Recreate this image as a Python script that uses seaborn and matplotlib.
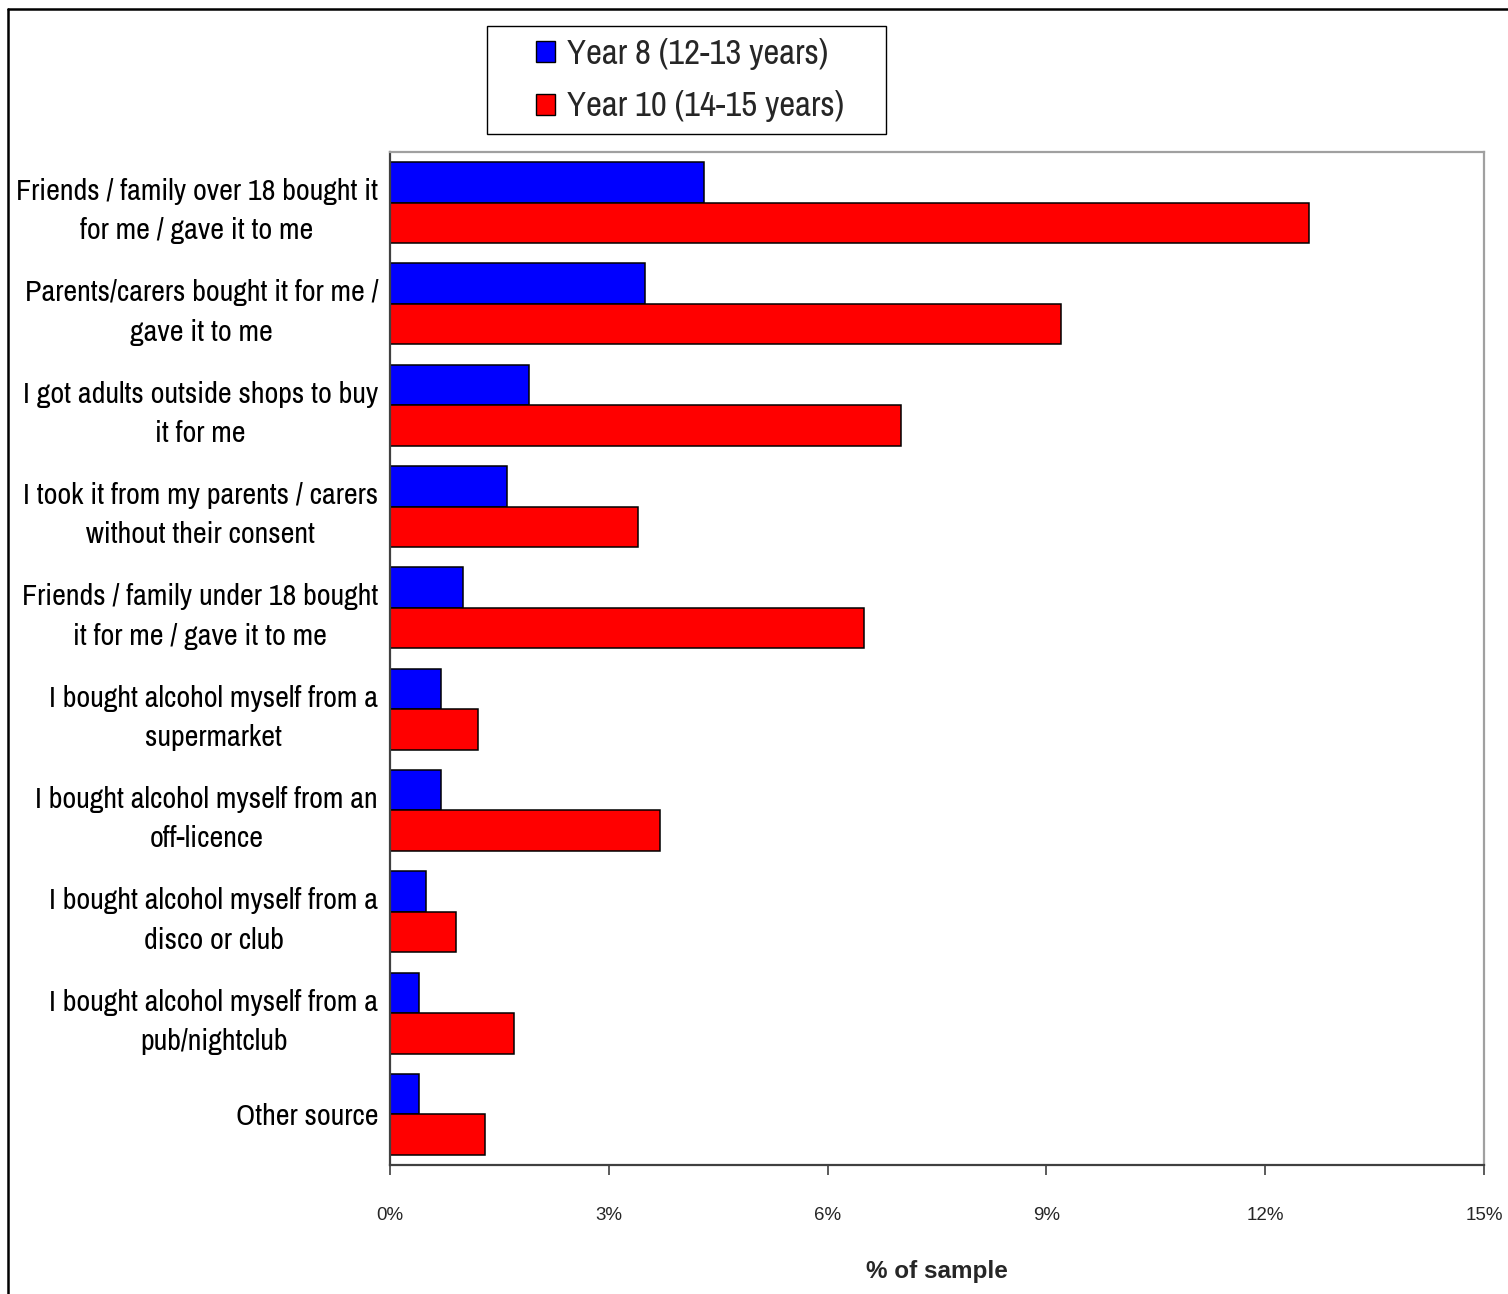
import matplotlib
matplotlib.use("Agg")
import matplotlib.pyplot as plt
from matplotlib.lines import Line2D
from matplotlib.patches import Rectangle
from matplotlib.ticker import FuncFormatter
import seaborn as sns
import pandas as pd

# Sources of alcohol, % of sample per school year
sources = [
    "Friends / family over 18 bought it\nfor me / gave it to me",
    "Parents/carers bought it for me /\ngave it to me",
    "I got adults outside shops to buy\nit for me",
    "I took it from my parents / carers\nwithout their consent",
    "Friends / family under 18 bought\nit for me / gave it to me",
    "I bought alcohol myself from a\nsupermarket",
    "I bought alcohol myself from an\noff-licence",
    "I bought alcohol myself from a\ndisco or club",
    "I bought alcohol myself from a\npub/nightclub",
    "Other source",
]
year8 = [4.3, 3.5, 1.9, 1.6, 1.0, 0.7, 0.7, 0.5, 0.4, 0.4]
year10 = [12.6, 9.2, 7.0, 3.4, 6.5, 1.2, 3.7, 0.9, 1.7, 1.3]
groups = ["Year 8 (12-13 years)", "Year 10 (14-15 years)"]
x_ticks = [0, 3, 6, 9, 12, 15]

df = pd.DataFrame({
    "source": sources * 2,
    "pct": year8 + year10,
    "group": [groups[0]] * len(sources) + [groups[1]] * len(sources),
})

sns.set_theme(style="white")
plt.rcParams["font.family"] = ["Liberation Sans", "DejaVu Sans"]
narrow = ["Archivo Narrow", "PT Sans Narrow", "Liberation Sans", "DejaVu Sans"]

W, H = 1508, 1294
fig = plt.figure(figsize=(W / 100, H / 100), dpi=100)
ax = fig.add_axes([390 / W, 1 - 1165 / H, (1484 - 390) / W, (1165 - 152) / H])

sns.barplot(
    data=df, y="source", x="pct", hue="group", order=sources, hue_order=groups,
    palette=["#0000ff", "#ff0000"], orient="h", width=0.8,
    edgecolor="black", linewidth=1.1, ax=ax, saturation=1,
)

ax.set_xlim(0, 15)
ax.set_ylim(len(sources) - 0.5, -0.5)
ax.set_xticks(x_ticks)
ax.xaxis.set_major_formatter(FuncFormatter(lambda v, p: f"{v:.0f}%"))
ax.tick_params(axis="x", bottom=True, length=7, width=1.2, color="#404040",
               labelsize=13.5, pad=23, direction="out")
ax.tick_params(axis="y", left=False, length=0, pad=8.6)
for lab in ax.get_yticklabels():
    lab.set_fontfamily(narrow)
    lab.set_fontsize(21.7)
    lab.set_multialignment("center")
    lab.set_linespacing(1.56)
    lab.set_color("black")

ax.set_ylabel("")
ax.set_xlabel("% of sample", fontsize=17.5, fontweight="bold", labelpad=26.5)
ax.grid(False)

for side in ["top", "right"]:
    ax.spines[side].set_color("#a0a0a0")
    ax.spines[side].set_linewidth(1.6)
for side in ["left", "bottom"]:
    ax.spines[side].set_color("#404040")
    ax.spines[side].set_linewidth(1.6)

# legend entries, with a separate fixed-size box around them
leg = ax.legend(
    loc="center", bbox_to_anchor=(690 / W, 1 - 80 / H), bbox_transform=fig.transFigure,
    frameon=False, prop={"family": narrow, "size": 25},
    handlelength=0.55, handleheight=0.55, handletextpad=0.35,
    borderpad=0, labelspacing=0.6, borderaxespad=0,
)
for h in leg.legend_handles:
    h.set_edgecolor("black")
    h.set_linewidth(1.0)
fig.add_artist(Rectangle((487 / W, 1 - 134 / H), 399 / W, 108 / H,
                         transform=fig.transFigure, facecolor="none",
                         edgecolor="black", lw=1.0))

# outer chart frame
fig.add_artist(Line2D([8 / W, 1.0], [1 - 9 / H, 1 - 9 / H], color="black", lw=1.8,
                      transform=fig.transFigure))
fig.add_artist(Line2D([8 / W, 8 / W], [0.0, 1 - 9 / H], color="black", lw=1.8,
                      transform=fig.transFigure))

fig.savefig("out.png", dpi=100, facecolor="white")
